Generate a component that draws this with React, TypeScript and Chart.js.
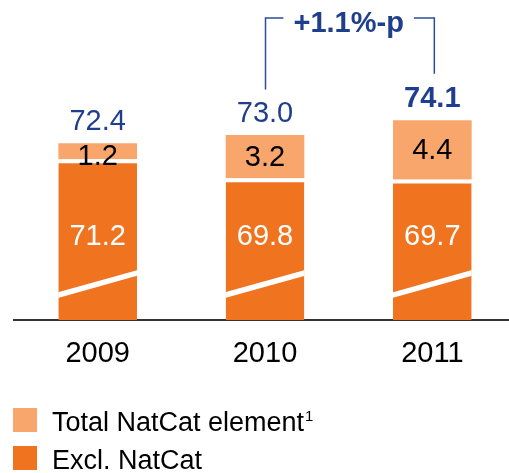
import React, { useEffect, useRef } from "react";
import { Chart, registerables } from "chart.js";

Chart.register(...registerables);

const categories = ["2009", "2010", "2011"];
const exclNatCat = [71.2, 69.8, 69.7];
const natCatElement = [1.2, 3.2, 4.4];
const totals = [72.4, 73.0, 74.1];
const boldTotals = [false, false, true];
const changeLabel = "+1.1%-p";
const legendLabels = ["Total NatCat element", "Excl. NatCat"];
const legendSup = ["1", ""];

const LIGHT = "#F8A66B";
const DARK = "#F07420";
const NAVY = "#1F3E8E";
const FONT = "'Liberation Sans', Arial, Helvetica, sans-serif";
const FS = 29;

const overlayPlugin = {
  id: "overlay",
  afterDatasetsDraw(chart: any) {
    const ctx = chart.ctx as CanvasRenderingContext2D;
    const area = chart.chartArea;
    const darkMeta = chart.getDatasetMeta(0);
    const lightMeta = chart.getDatasetMeta(1);
    ctx.save();

    // axis-break marks on dark bars
    darkMeta.data.forEach((bar: any) => {
      const half = bar.width / 2;
      ctx.save();
      ctx.beginPath();
      ctx.rect(bar.x - half, area.top, bar.width, area.bottom - area.top);
      ctx.clip();
      ctx.strokeStyle = "#ffffff";
      ctx.lineWidth = 5.5;
      ctx.beginPath();
      ctx.moveTo(bar.x - half - 4, area.bottom - 25 + 4 * (22 / bar.width));
      ctx.lineTo(bar.x + half + 4, area.bottom - 47 - 4 * (22 / bar.width));
      ctx.stroke();
      ctx.restore();
    });

    ctx.textAlign = "center";
    ctx.textBaseline = "middle";

    // dark segment labels
    ctx.fillStyle = "#ffffff";
    ctx.font = `${FS}px ${FONT}`;
    darkMeta.data.forEach((bar: any, i: number) => {
      ctx.fillText(exclNatCat[i].toFixed(1), bar.x, area.bottom - 83);
    });

    // light segment labels
    ctx.fillStyle = "#000000";
    lightMeta.data.forEach((bar: any, i: number) => {
      const segTop = bar.y;
      const segBottom = bar.base;
      const cy = Math.max((segTop + segBottom) / 2, segTop + 12.5);
      ctx.fillText(natCatElement[i].toFixed(1), bar.x, cy + 1);
    });

    // totals
    ctx.textBaseline = "alphabetic";
    ctx.fillStyle = NAVY;
    const totalTops: number[] = [];
    lightMeta.data.forEach((bar: any, i: number) => {
      ctx.font = `${boldTotals[i] ? "bold " : ""}${FS}px ${FONT}`;
      const baseline = bar.y - 13.5;
      ctx.fillText(totals[i].toFixed(1), bar.x, baseline);
      totalTops.push(baseline - 21);
    });

    // change bracket between 2010 and 2011
    const b1 = lightMeta.data[1];
    const b2 = lightMeta.data[2];
    const mid = (b1.x + b2.x) / 2;
    const topY = 18;
    ctx.font = `bold ${FS}px ${FONT}`;
    ctx.fillText(changeLabel, mid, 32);
    const tw = ctx.measureText(changeLabel).width;
    ctx.strokeStyle = "#2D4C9A";
    ctx.lineWidth = 1.5;
    ctx.beginPath();
    ctx.moveTo(b1.x + 0.5, totalTops[1] - 11);
    ctx.lineTo(b1.x + 0.5, topY);
    ctx.lineTo(mid - tw / 2 - 10, topY);
    ctx.moveTo(mid + tw / 2 + 10, topY);
    ctx.lineTo(b2.x + 2, topY);
    ctx.lineTo(b2.x + 2, totalTops[2] - 12);
    ctx.stroke();

    // legend
    const colors = [LIGHT, DARK];
    legendLabels.forEach((lab, i) => {
      const y0 = 408 + i * 38;
      ctx.fillStyle = colors[i];
      ctx.fillRect(13, y0, 24, 24);
      ctx.fillStyle = "#000000";
      ctx.textAlign = "left";
      ctx.font = `27px ${FONT}`;
      ctx.fillText(lab, 52, y0 + 23);
      if (legendSup[i]) {
        const w = ctx.measureText(lab).width;
        ctx.font = `15px ${FONT}`;
        ctx.fillText(legendSup[i], 52 + w + 1, y0 + 13);
      }
    });

    ctx.restore();
  },
};

export default function App() {
  const ref = useRef<HTMLCanvasElement | null>(null);

  useEffect(() => {
    if (!ref.current) return;
    const chart = new Chart(ref.current, {
      type: "bar",
      data: {
        labels: categories,
        datasets: [
          {
            label: legendLabels[1],
            data: exclNatCat,
            backgroundColor: DARK,
            borderColor: "#ffffff",
            borderWidth: { top: 4, left: 0, right: 0, bottom: 0 },
            borderSkipped: false,
          },
          {
            label: legendLabels[0],
            data: natCatElement,
            backgroundColor: LIGHT,
            borderWidth: 0,
          },
        ],
      },
      options: {
        responsive: false,
        animation: false,
        devicePixelRatio: 1,
        layout: { padding: { left: 14, right: 4, top: 20, bottom: 0 } },
        datasets: { bar: { categoryPercentage: 1, barPercentage: 0.47 } },
        plugins: {
          legend: { display: false },
          tooltip: { enabled: false },
        },
        scales: {
          x: {
            stacked: true,
            grid: { display: false, drawTicks: false },
            border: { display: true, color: "#333333", width: 2 },
            ticks: {
              color: "#000000",
              font: { family: FONT, size: FS },
              padding: 17,
            },
            afterFit: (scale: any) => {
              scale.height = 153;
            },
          },
          y: {
            stacked: true,
            display: false,
            min: 59.3,
            max: 81.52,
          },
        },
      },
      plugins: [overlayPlugin],
    });
    return () => chart.destroy();
  }, []);

  return (
    <div
      style={{
        position: "absolute",
        left: 0,
        top: 0,
        width: 509,
        height: 473,
        overflow: "hidden",
        background: "#ffffff",
      }}
    >
      <canvas ref={ref} width={520} height={473} style={{ display: "block" }} />
    </div>
  );
}
